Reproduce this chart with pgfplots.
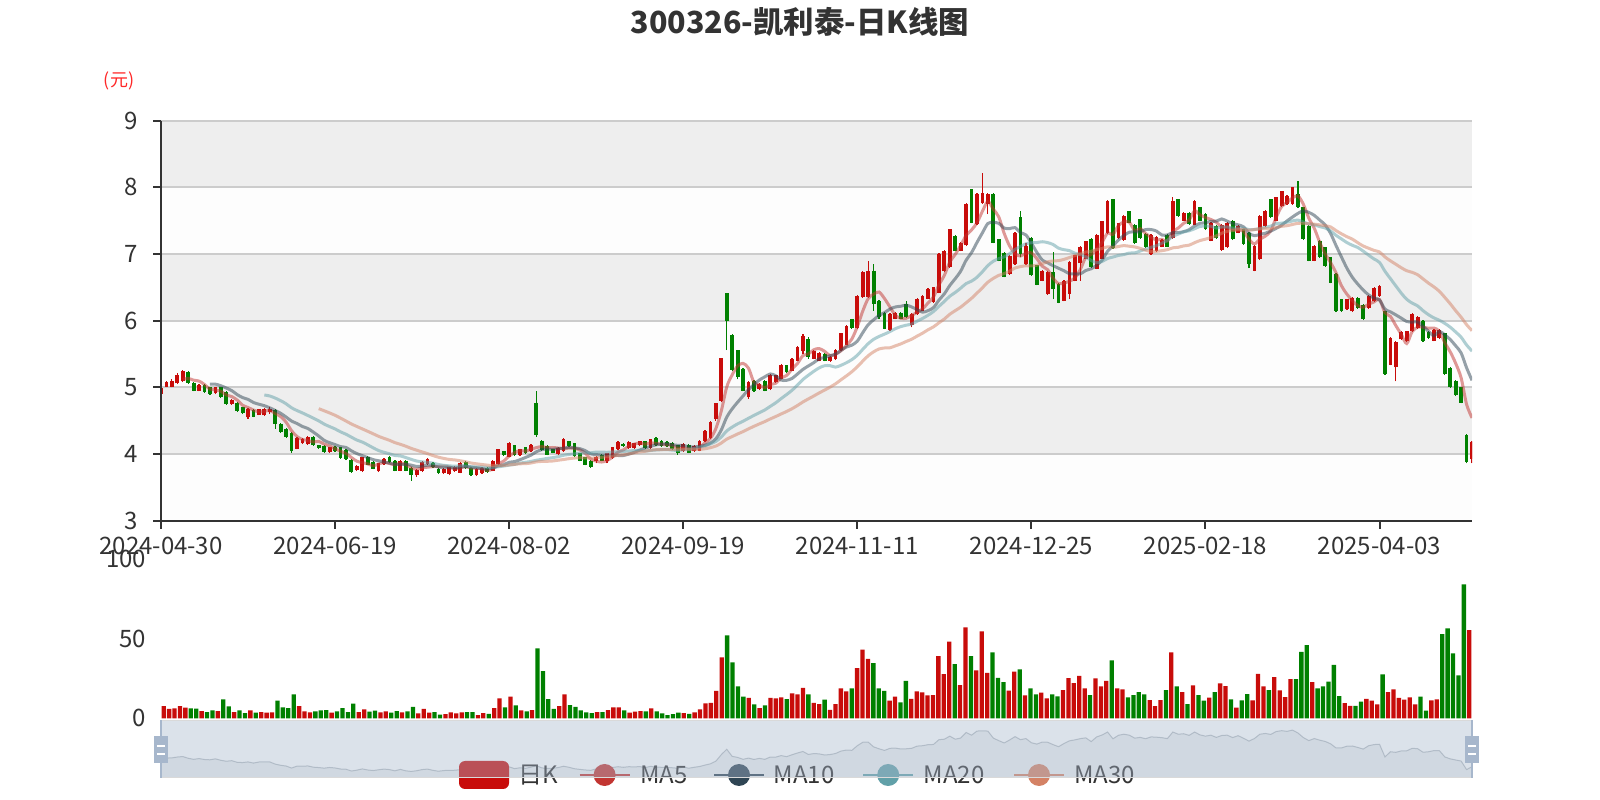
\documentclass[border=0pt]{standalone}
\usepackage{pgfplots}
\pgfplotsset{compat=1.18}
\usepackage{pgfplotstable}
\usepackage{fontspec}
\setmainfont{Noto Sans CJK SC}
\definecolor{upc}{RGB}{200,12,10}
\definecolor{dnc}{RGB}{0,128,0}
\definecolor{txt}{RGB}{51,51,51}
\definecolor{gridc}{RGB}{204,204,204}
\definecolor{bandA}{RGB}{238,238,238}
\definecolor{bandB}{RGB}{253,253,253}
\definecolor{ma5c}{HTML}{C23531}
\definecolor{ma10c}{HTML}{2F4554}
\definecolor{ma20c}{HTML}{61A0A8}
\definecolor{ma30c}{HTML}{D48265}
\definecolor{fillerc}{RGB}{167,183,204}
\definecolor{shadowc}{RGB}{47,69,84}
\definecolor{handlec}{HTML}{A7B7CC}
\definecolor{unitc}{RGB}{255,40,40}

\pgfplotstableread{
i o c l h v
0 4.90 4.99 4.87 5.01 7.7
1 5.01 5.08 5.00 5.10 5.9
2 5.01 5.10 5.00 5.12 6.3
3 5.06 5.19 5.05 5.21 7.7
4 5.09 5.24 5.08 5.26 6.7
5 5.23 5.06 5.05 5.25 6.3
6 5.07 4.95 4.94 5.08 6.1
7 4.95 5.03 4.94 5.05 4.6
8 5.04 4.93 4.92 5.05 4.0
9 5.00 4.90 4.89 5.01 5.0
10 4.91 5.00 4.90 5.01 4.6
11 5.00 4.85 4.84 5.01 11.9
12 4.93 4.75 4.74 4.94 7.5
13 4.75 4.81 4.74 4.82 4.0
14 4.77 4.64 4.63 4.78 5.0
15 4.70 4.61 4.60 4.71 3.3
16 4.55 4.68 4.53 4.69 5.0
17 4.66 4.56 4.55 4.67 3.6
18 4.59 4.67 4.58 4.68 4.0
19 4.58 4.68 4.57 4.69 3.6
20 4.63 4.68 4.60 4.70 3.8
21 4.66 4.45 4.38 4.67 11.1
22 4.45 4.33 4.32 4.46 6.9
23 4.38 4.25 4.24 4.39 6.5
24 4.32 4.04 4.02 4.33 15.1
25 4.08 4.24 4.07 4.25 7.7
26 4.16 4.23 4.15 4.24 4.4
27 4.15 4.26 4.14 4.27 3.8
28 4.26 4.13 4.12 4.27 4.4
29 4.13 4.09 4.08 4.14 5.0
30 4.12 4.03 4.02 4.13 5.2
31 4.03 4.10 4.02 4.11 3.6
32 4.10 4.05 4.03 4.12 4.4
33 4.10 3.94 3.93 4.11 6.5
34 4.06 3.92 3.91 4.07 4.0
35 3.91 3.73 3.72 3.92 9.2
36 3.76 3.82 3.75 3.83 4.0
37 3.74 3.95 3.73 3.96 5.6
38 3.96 3.84 3.83 3.97 4.2
39 3.88 3.78 3.77 3.89 4.8
40 3.74 3.86 3.73 3.87 3.8
41 3.85 3.93 3.84 3.94 4.4
42 3.96 3.88 3.87 3.97 3.6
43 3.90 3.75 3.74 3.91 4.6
44 3.75 3.90 3.74 3.91 3.8
45 3.90 3.75 3.74 3.91 4.4
46 3.79 3.69 3.60 3.80 7.3
47 3.68 3.76 3.66 3.77 3.1
48 3.74 3.88 3.73 3.89 5.9
49 3.85 3.93 3.84 3.94 3.6
50 3.86 3.80 3.79 3.88 4.0
51 3.78 3.71 3.70 3.79 2.3
52 3.71 3.78 3.70 3.79 2.7
53 3.70 3.80 3.68 3.81 3.8
54 3.74 3.81 3.73 3.82 3.1
55 3.72 3.87 3.71 3.88 3.8
56 3.88 3.79 3.78 3.89 4.0
57 3.79 3.68 3.67 3.80 4.0
58 3.68 3.78 3.67 3.79 2.1
59 3.71 3.79 3.70 3.80 3.3
60 3.79 3.73 3.72 3.80 2.9
61 3.75 3.90 3.74 3.91 6.5
62 3.85 4.07 3.84 4.08 12.6
63 4.04 3.98 3.97 4.05 6.9
64 3.96 4.17 3.95 4.18 13.6
65 4.13 3.98 3.97 4.14 8.2
66 3.98 4.07 3.97 4.08 5.0
67 4.10 4.01 4.00 4.11 4.4
68 4.04 4.13 4.03 4.15 5.2
69 4.77 4.29 4.26 4.94 43.9
70 4.20 4.06 4.05 4.21 29.7
71 4.12 3.99 3.98 4.13 12.1
72 4.07 4.02 4.01 4.08 5.9
73 4.00 4.09 3.99 4.10 7.7
74 4.04 4.23 4.03 4.24 15.1
75 4.19 4.12 4.11 4.20 8.4
76 4.16 3.97 3.96 4.17 7.3
77 4.01 3.90 3.89 4.02 5.0
78 3.95 3.84 3.83 3.96 3.8
79 3.90 3.80 3.79 3.91 3.3
80 3.89 3.96 3.86 3.97 4.0
81 3.99 3.90 3.89 4.00 4.0
82 3.89 4.01 3.86 4.02 5.2
83 3.94 4.10 3.93 4.11 6.9
84 4.07 4.18 4.06 4.19 6.9
85 4.15 4.12 4.11 4.16 5.0
86 4.09 4.18 4.08 4.19 3.6
87 4.09 4.16 4.08 4.17 4.2
88 4.13 4.19 4.12 4.20 4.6
89 4.19 4.09 4.08 4.20 4.4
90 4.09 4.22 4.08 4.23 6.3
91 4.24 4.13 4.12 4.25 4.4
92 4.20 4.12 4.11 4.21 3.1
93 4.18 4.12 4.11 4.19 2.1
94 4.17 4.07 4.06 4.18 2.7
95 4.13 4.02 3.99 4.14 3.6
96 4.04 4.15 4.03 4.16 3.3
97 4.14 4.02 4.01 4.15 2.9
98 4.04 4.12 4.03 4.13 3.8
99 4.05 4.20 4.04 4.21 5.6
100 4.19 4.35 4.18 4.36 9.4
101 4.24 4.48 4.23 4.49 9.8
102 4.52 4.76 4.50 4.77 17.2
103 4.80 5.44 4.78 5.44 38.3
104 6.41 6.00 5.56 6.41 52.1
105 5.78 5.26 5.25 5.80 35.1
106 5.56 5.15 5.12 5.56 20.1
107 5.28 4.95 4.94 5.29 13.6
108 4.85 5.08 4.83 5.09 12.8
109 5.10 4.94 4.93 5.11 8.8
110 4.98 5.05 4.96 5.07 6.5
111 5.10 4.95 4.94 5.11 8.2
112 4.97 5.19 4.96 5.20 12.8
113 5.08 5.18 5.07 5.19 12.6
114 5.13 5.34 5.12 5.35 13.2
115 5.33 5.23 5.22 5.34 12.1
116 5.25 5.43 5.24 5.44 15.7
117 5.40 5.61 5.39 5.62 15.1
118 5.55 5.77 5.50 5.80 19.2
119 5.72 5.46 5.43 5.75 15.1
120 5.43 5.55 5.42 5.56 9.8
121 5.40 5.52 5.39 5.53 9.0
122 5.50 5.40 5.39 5.51 11.7
123 5.40 5.45 5.38 5.47 5.4
124 5.42 5.56 5.41 5.57 9.0
125 5.56 5.81 5.55 5.82 18.8
126 5.64 5.92 5.63 5.93 16.9
127 6.02 5.89 5.88 6.03 18.8
128 5.89 6.37 5.88 6.38 31.6
129 6.35 6.73 6.34 6.75 43.1
130 6.35 6.75 6.34 6.90 37.4
131 6.75 6.25 6.15 6.85 34.7
132 6.30 6.05 6.03 6.31 18.8
133 6.12 5.88 5.87 6.13 17.2
134 5.86 6.10 5.85 6.11 11.1
135 6.03 6.12 6.02 6.13 13.6
136 6.12 6.03 6.02 6.13 10.0
137 6.25 6.05 6.04 6.30 23.6
138 5.93 6.10 5.90 6.11 12.3
139 6.10 6.33 6.09 6.34 16.9
140 6.15 6.37 6.14 6.38 16.3
141 6.33 6.48 6.32 6.49 14.4
142 6.28 6.50 6.27 6.51 14.6
143 6.42 7.00 6.41 7.01 39.1
144 6.74 7.05 6.73 7.06 27.8
145 6.80 7.37 6.79 7.38 48.1
146 7.27 7.05 7.04 7.28 34.1
147 7.05 7.17 7.04 7.18 20.9
148 7.13 7.75 7.12 7.76 57.1
149 7.97 7.47 7.46 7.98 39.1
150 7.45 7.90 7.44 7.91 30.1
151 7.76 7.92 7.75 8.22 54.6
152 7.75 7.90 7.60 7.92 28.5
153 7.90 7.17 7.16 7.91 41.4
154 7.22 6.90 6.89 7.23 25.5
155 7.02 6.66 6.65 7.03 22.8
156 6.70 6.97 6.69 6.98 17.4
157 6.85 7.32 6.84 7.33 29.3
158 7.55 7.00 6.95 7.65 30.8
159 6.85 7.12 6.83 7.17 14.4
160 7.24 6.68 6.67 7.25 18.8
161 6.83 6.54 6.53 6.84 15.1
162 6.60 6.75 6.59 6.76 16.1
163 6.40 6.73 6.39 6.74 12.6
164 6.73 6.48 6.32 7.03 15.1
165 6.55 6.27 6.26 6.56 13.8
166 6.30 6.60 6.29 6.61 17.8
167 6.40 6.88 6.33 6.89 25.3
168 6.60 6.98 6.59 6.99 22.2
169 6.86 7.11 6.60 7.12 26.6
170 6.93 7.19 6.92 7.20 18.8
171 7.23 6.80 6.79 7.24 14.6
172 6.78 7.29 6.77 7.30 25.1
173 6.93 7.49 6.92 7.50 20.1
174 7.31 7.80 7.30 7.81 23.6
175 7.82 7.09 7.08 7.83 36.4
176 7.24 7.46 7.23 7.47 18.8
177 7.21 7.57 7.20 7.58 18.2
178 7.64 7.47 7.46 7.65 13.2
179 7.44 7.16 7.15 7.45 14.6
180 7.52 7.24 7.23 7.53 16.5
181 7.30 7.10 7.09 7.31 15.1
182 7.00 7.29 6.99 7.30 11.5
183 7.04 7.26 7.03 7.27 7.7
184 7.11 7.21 7.10 7.22 11.5
185 7.29 7.11 7.10 7.30 17.8
186 7.24 7.80 7.23 7.85 41.4
187 7.82 7.57 7.56 7.83 20.1
188 7.50 7.62 7.49 7.63 16.5
189 7.62 7.45 7.44 7.63 9.0
190 7.44 7.80 7.43 7.81 20.7
191 7.70 7.50 7.49 7.71 14.6
192 7.60 7.37 7.36 7.61 11.1
193 7.20 7.47 7.19 7.48 13.0
194 7.42 7.24 7.23 7.43 16.5
195 7.06 7.44 7.05 7.45 22.0
196 7.10 7.47 7.09 7.48 20.3
197 7.50 7.22 7.21 7.51 11.9
198 7.32 7.42 7.31 7.43 6.7
199 7.37 7.15 7.14 7.38 11.3
200 7.32 6.85 6.79 7.33 15.3
201 6.75 7.12 6.74 7.13 11.3
202 6.92 7.57 6.91 7.58 28.0
203 7.42 7.65 7.41 7.66 20.1
204 7.82 7.55 7.54 7.83 17.8
205 7.50 7.85 7.49 7.86 25.9
206 7.72 7.94 7.71 7.95 17.6
207 7.75 7.87 7.74 7.88 13.4
208 7.75 8.00 7.74 8.01 24.7
209 7.90 7.70 7.69 8.10 24.7
210 7.70 7.22 7.21 7.71 41.8
211 7.42 6.90 6.89 7.43 46.0
212 6.90 7.12 6.89 7.13 22.8
213 7.20 6.95 6.94 7.21 18.8
214 7.10 6.82 6.81 7.11 20.1
215 6.95 6.57 6.56 6.96 23.0
216 6.70 6.14 6.13 6.71 33.5
217 6.32 6.14 6.13 6.33 14.0
218 6.17 6.32 6.16 6.33 9.6
219 6.14 6.34 6.13 6.35 7.9
220 6.34 6.19 6.18 6.35 7.9
221 6.24 6.02 6.01 6.25 10.5
222 6.19 6.37 6.18 6.38 12.3
223 6.29 6.49 6.28 6.50 11.1
224 6.37 6.52 6.36 6.53 8.8
225 6.14 5.20 5.19 6.15 27.6
226 5.34 5.74 5.33 5.75 16.5
227 5.30 5.68 5.09 5.69 18.2
228 5.72 5.83 5.71 5.84 12.8
229 5.69 5.84 5.68 5.85 11.7
230 5.84 6.10 5.83 6.11 13.2
231 5.89 6.06 5.88 6.07 8.8
232 6.00 5.69 5.68 6.01 13.6
233 5.83 5.74 5.73 5.84 4.8
234 5.70 5.86 5.69 5.87 11.3
235 5.74 5.86 5.73 5.87 11.9
236 5.81 5.20 5.19 5.82 52.9
237 5.29 5.00 4.99 5.30 56.5
238 5.10 4.88 4.87 5.11 40.8
239 5.00 4.77 4.76 5.01 27.0
240 4.28 3.88 3.86 4.30 84.1
241 3.92 4.18 3.86 4.20 55.4
}\data

% ---- split the rows into rising / falling days, and running sums of closes ----
\newcount\rr
\gdef\upW{}\gdef\dnW{}\gdef\upB{}\gdef\dnB{}\gdef\upV{}\gdef\dnV{}
\gdef\runsum{0}
\expandafter\gdef\csname cum@-1\endcsname{0}
\rr=0
\loop
  \pgfplotstablegetelem{\the\rr}{o}\of\data\let\vo\pgfplotsretval
  \pgfplotstablegetelem{\the\rr}{c}\of\data\let\vc\pgfplotsretval
  \pgfplotstablegetelem{\the\rr}{l}\of\data\let\vl\pgfplotsretval
  \pgfplotstablegetelem{\the\rr}{h}\of\data\let\vh\pgfplotsretval
  \pgfplotstablegetelem{\the\rr}{v}\of\data\let\vv\pgfplotsretval
  \pgfmathsetmacro\tmpsum{\runsum+\vc}\xdef\runsum{\tmpsum}
  \expandafter\xdef\csname cum@\the\rr\endcsname{\tmpsum}
  \pgfmathsetmacro\xv{\the\rr+0.5}
  \pgfmathtruncatemacro\isup{\vc>=\vo ? 1 : 0}
  \ifnum\isup=1
    \xdef\upW{\upW (\the\rr,\vl) (\the\rr,\vh) (\the\rr,nan)}
    \xdef\upB{\upB (\the\rr,\vo) (\the\rr,\vc) (\the\rr,nan)}
    \xdef\upV{\upV (\xv,\vv)}
  \else
    \xdef\dnW{\dnW (\the\rr,\vl) (\the\rr,\vh) (\the\rr,nan)}
    \xdef\dnB{\dnB (\the\rr,\vo) (\the\rr,\vc) (\the\rr,nan)}
    \xdef\dnV{\dnV (\xv,\vv)}
  \fi
  \advance\rr by 1
\ifnum\rr<242 \repeat

% ---- moving averages of the closes ----
\newcommand\buildma[2]{%
  \gdef#2{}%
  \rr=\numexpr#1-1\relax
  \loop
    \pgfmathtruncatemacro\jj{\the\rr-#1}%
    \pgfmathsetmacro\maval{(\csname cum@\the\rr\endcsname-\csname cum@\jj\endcsname)/#1}%
    \xdef#2{#2 (\the\rr,\maval)}%
    \advance\rr by 1
  \ifnum\rr<242 \repeat
}
\buildma{5}\maA
\buildma{10}\maB
\buildma{20}\maC
\buildma{30}\maD

\newcommand\tfont{\fontsize{12bp}{14bp}\selectfont}

\begin{document}
\begin{tikzpicture}
\path[use as bounding box, fill=white] (0,0) rectangle (800bp,400bp);

% ---------------- main price axis ----------------
\begin{axis}[
  at={(80.5bp,139.65bp)}, anchor=south west,
  width=655.5bp, height=200bp, scale only axis,
  xmin=0, xmax=241, ymin=3, ymax=9,
  axis on top,
  axis x line*=bottom, axis y line*=left,
  axis line style={-, draw=txt, line width=1bp},
  xtick={0,32,64,96,128,160,192,224},
  xticklabels={2024-04-30,2024-06-19,2024-08-02,2024-09-19,2024-11-11,2024-12-25,2025-02-18,2025-04-03},
  ytick={3,4,5,6,7,8,9},
  tick align=outside, major tick length=4bp,
  tick style={draw=txt, line width=1bp},
  tick label style={font=\tfont, text=txt},
  /pgf/number format/assume math mode=true,
  xticklabel style={yshift=-0.5bp},
  yticklabel style={xshift=-4bp},
  unbounded coords=jump,
]
\fill[bandA] (axis cs:0,8) rectangle (axis cs:241,9);
\fill[bandB] (axis cs:0,7) rectangle (axis cs:241,8);
\fill[bandA] (axis cs:0,6) rectangle (axis cs:241,7);
\fill[bandB] (axis cs:0,5) rectangle (axis cs:241,6);
\fill[bandA] (axis cs:0,4) rectangle (axis cs:241,5);
\fill[bandB] (axis cs:0,3) rectangle (axis cs:241,4);
\draw[gridc, line width=1bp] (axis cs:0,4) -- (axis cs:241,4);
\draw[gridc, line width=1bp] (axis cs:0,5) -- (axis cs:241,5);
\draw[gridc, line width=1bp] (axis cs:0,6) -- (axis cs:241,6);
\draw[gridc, line width=1bp] (axis cs:0,7) -- (axis cs:241,7);
\draw[gridc, line width=1bp] (axis cs:0,8) -- (axis cs:241,8);
\draw[gridc, line width=1bp] (axis cs:0,9) -- (axis cs:241,9);
% wicks and bodies
\edef\tmpplot{\noexpand\addplot[upc, line width=0.6bp, no marks] coordinates {\upW};}\tmpplot
\edef\tmpplot{\noexpand\addplot[dnc, line width=0.6bp, no marks] coordinates {\dnW};}\tmpplot
\edef\tmpplot{\noexpand\addplot[upc, line width=1.9bp, no marks] coordinates {\upB};}\tmpplot
\edef\tmpplot{\noexpand\addplot[dnc, line width=1.9bp, no marks] coordinates {\dnB};}\tmpplot
% moving averages
\edef\tmpplot{\noexpand\addplot[ma5c, opacity=0.5, line width=1.5bp, smooth, no marks] coordinates {\maA};}\tmpplot
\edef\tmpplot{\noexpand\addplot[ma10c, opacity=0.5, line width=1.5bp, smooth, no marks] coordinates {\maB};}\tmpplot
\edef\tmpplot{\noexpand\addplot[ma20c, opacity=0.5, line width=1.5bp, smooth, no marks] coordinates {\maC};}\tmpplot
\edef\tmpplot{\noexpand\addplot[ma30c, opacity=0.5, line width=1.5bp, smooth, no marks] coordinates {\maD};}\tmpplot
\end{axis}

% ---------------- volume axis ----------------
\begin{axis}[
  at={(80.5bp,40.8bp)}, anchor=south west,
  width=655.5bp, height=79.7bp, scale only axis,
  xmin=0, xmax=242, ymin=0, ymax=100,
  axis x line*=bottom, axis y line*=left,
  axis line style={draw=none},
  xtick=\empty,
  ytick={0,50,100}, major tick length=0pt,
  tick label style={font=\tfont, text=txt},
  /pgf/number format/assume math mode=true,
  yticklabel style={xshift=-4bp},
]
\edef\tmpplot{\noexpand\addplot[ybar, bar width=2.15bp, bar shift=0pt, fill=upc, draw=none] coordinates {\upV};}\tmpplot
\edef\tmpplot{\noexpand\addplot[ybar, bar width=2.15bp, bar shift=0pt, fill=dnc, draw=none] coordinates {\dnV};}\tmpplot
\end{axis}

% ---------------- data zoom shadow ----------------
\begin{axis}[
  at={(80.5bp,11bp)}, anchor=south west,
  width=655.5bp, height=28.75bp, scale only axis,
  xmin=0, xmax=241, ymin=3, ymax=9, hide axis,
]
\addplot[draw=none, fill=shadowc, fill opacity=0.09] table[x=i, y=c] {\data} \closedcycle;
\addplot[draw=shadowc, draw opacity=0.3, line width=0.5bp, no marks] table[x=i, y=c] {\data};
\end{axis}

% ---------------- legend ----------------
\fill[upc, rounded corners=3bp] (229.5bp,5.5bp) rectangle (254.5bp,19.5bp);
\node[anchor=west, font=\tfont, text=txt, inner sep=0pt] at (259bp,12.5bp) {日K};
\draw[ma5c, line width=1bp] (289.8bp,12.5bp) -- (314.8bp,12.5bp);
\fill[ma5c] (302.3bp,12.5bp) circle (5.5bp);
\node[anchor=west, font=\tfont, text=txt, inner sep=0pt] at (320bp,12.5bp) {MA5};
\draw[ma10c, line width=1bp] (357bp,12.5bp) -- (382bp,12.5bp);
\fill[ma10c] (369.5bp,12.5bp) circle (5.5bp);
\node[anchor=west, font=\tfont, text=txt, inner sep=0pt] at (386.7bp,12.5bp) {MA10};
\draw[ma20c, line width=1bp] (431.6bp,12.5bp) -- (456.6bp,12.5bp);
\fill[ma20c] (444.1bp,12.5bp) circle (5.5bp);
\node[anchor=west, font=\tfont, text=txt, inner sep=0pt] at (461.7bp,12.5bp) {MA20};
\draw[ma30c, line width=1bp] (507bp,12.5bp) -- (532bp,12.5bp);
\fill[ma30c] (519.5bp,12.5bp) circle (5.5bp);
\node[anchor=west, font=\tfont, text=txt, inner sep=0pt] at (537bp,12.5bp) {MA30};

% ---------------- slider overlay and handles ----------------
\fill[fillerc, opacity=0.4] (80.5bp,11bp) rectangle (736bp,39.75bp);
\draw[gray!30, line width=0.5bp] (80.5bp,11bp) rectangle (736bp,39.75bp);
\draw[handlec, line width=1bp] (80.5bp,11bp) -- (80.5bp,39.75bp);
\fill[handlec] (77bp,18.5bp) rectangle (84bp,32bp);
\fill[white] (78.5bp,22.7bp) rectangle (82.5bp,23.5bp);
\fill[white] (78.5bp,26.5bp) rectangle (82.5bp,27.3bp);
\draw[handlec, line width=1bp] (736bp,11bp) -- (736bp,39.75bp);
\fill[handlec] (732.5bp,18.5bp) rectangle (739.5bp,32bp);
\fill[white] (734bp,22.7bp) rectangle (738bp,23.5bp);
\fill[white] (734bp,26.5bp) rectangle (738bp,27.3bp);

% ---------------- title and unit ----------------
\node[font=\fontsize{15.2bp}{18bp}\selectfont\bfseries, text=txt] at (400bp,389.25bp) {300326-凯利泰-日K线图};
\node[font=\fontsize{9bp}{11bp}\selectfont, text=unitc] at (59.5bp,359.5bp) {(元)};
\end{tikzpicture}
\end{document}
